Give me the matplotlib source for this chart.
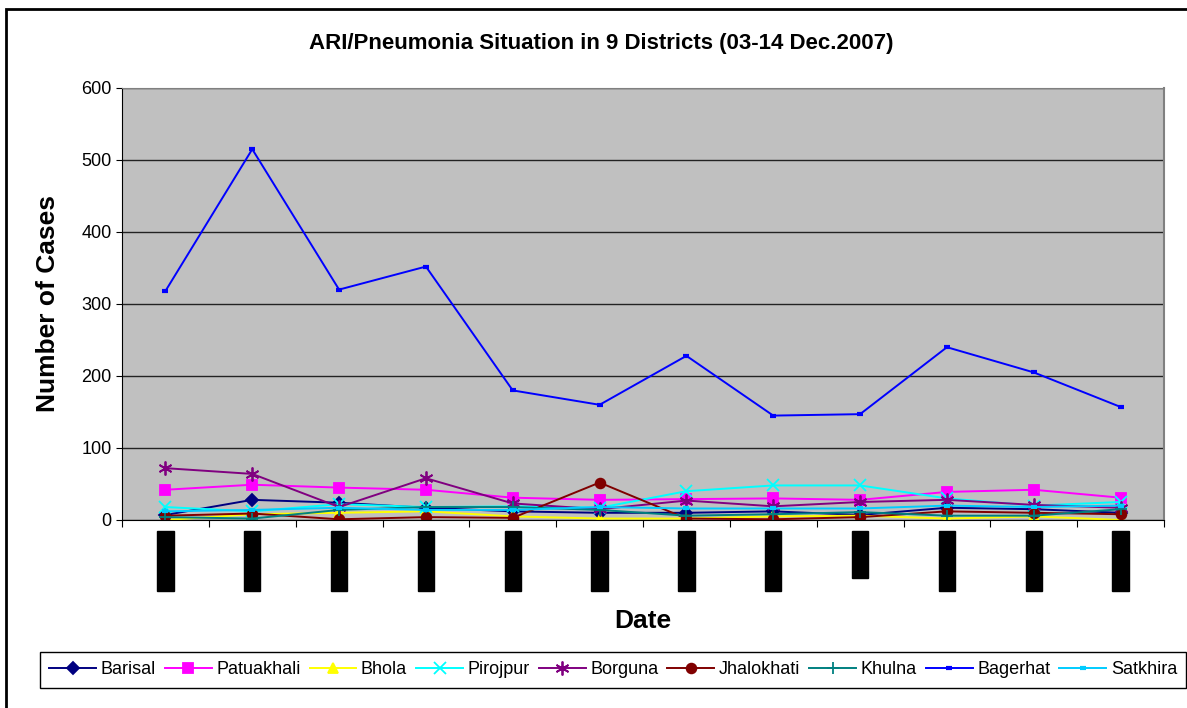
import numpy as np
import matplotlib
matplotlib.use("Agg")
import matplotlib.pyplot as plt
from matplotlib.patches import Rectangle

plt.rcParams['font.family'] = ['Liberation Sans', 'DejaVu Sans']

dates = ["03-12-2007", "04-12-2007", "05-12-2007", "06-12-2007", "07-12-2007", "08-12-2007",
         "09-12-2007", "10-12-2007", "11-12-07", "12-12-2007", "13-12-2007", "14-12-2007"]

barisal    = [7, 28, 24, 17, 12, 10, 10, 12, 7, 17, 15, 10]
patuakhali = [42, 49, 45, 42, 31, 28, 29, 30, 28, 39, 42, 31]
bhola      = [0, 8, 10, 12, 5, 2, 2, 5, 6, 2, 5, 0]
pirojpur   = [18, 12, 22, 18, 19, 17, 40, 48, 48, 30, 20, 25]
borguna    = [72, 64, 18, 58, 23, 15, 27, 19, 25, 28, 21, 17]
jhalokhati = [6, 9, 1, 4, 3, 52, 2, 1, 4, 12, 10, 8]
khulna     = [4, 2, 14, 18, 18, 14, 6, 8, 11, 6, 6, 15]
bagerhat   = [318, 515, 320, 352, 180, 160, 228, 145, 147, 240, 205, 157]
satkhira   = [12, 14, 17, 14, 14, 18, 16, 16, 16, 20, 18, 20]

series = [
    ("Barisal", barisal, "#000080", "D", 6),
    ("Patuakhali", patuakhali, "#FF00FF", "s", 7),
    ("Bhola", bhola, "#FFFF00", "^", 7),
    ("Pirojpur", pirojpur, "#00FFFF", "x", 8),
    ("Borguna", borguna, "#800080", (6, 2, 0), 10),
    ("Jhalokhati", jhalokhati, "#800000", "o", 7),
    ("Khulna", khulna, "#008080", "+", 9),
    ("Bagerhat", bagerhat, "#0000FF", "_", 5),
    ("Satkhira", satkhira, "#00CCFF", "_", 5),
]

fig = plt.figure(figsize=(11.87, 7.08), dpi=100)
ax = fig.add_axes([122/1187, 1-520/708, 1042/1187, 432/708])
ax.set_facecolor("#C0C0C0")

x = np.arange(len(dates))
for name, vals, col, mk, ms in series:
    mew = 3 if mk == "_" else 1.3
    ax.plot(x, vals, color=col, marker=mk, markersize=ms, linewidth=1.4,
            markeredgecolor=col, markerfacecolor=col, markeredgewidth=mew, label=name)

ax.set_ylim(0, 600)
ax.set_xlim(-0.5, len(dates) - 0.5)
ax.set_yticks(range(0, 601, 100))
ax.yaxis.grid(True, color="#222222", linewidth=1)
ax.set_axisbelow(True)
ax.tick_params(axis="y", labelsize=13, length=4, direction="out")

# category boundaries get the ticks, labels sit at the centres
ax.set_xticks(np.arange(-0.5, len(dates)), labels=[])
ax.tick_params(axis="x", which="major", length=5, direction="out")
ax.set_xticks(x, labels=dates, minor=True)
ax.tick_params(axis="x", which="minor", length=0, pad=10)
for lab in ax.get_xticklabels(minor=True):
    lab.set_rotation(90)
    lab.set_fontsize(7.6)
    lab.set_color("black")
    lab.set_va("top")
    lab.set_bbox(dict(facecolor="black", edgecolor="black", boxstyle="square,pad=0.3"))

ax.spines["left"].set_color("black")
ax.spines["bottom"].set_color("black")
ax.spines["top"].set_color("#808080")
ax.spines["right"].set_color("#808080")
ax.spines["right"].set_linewidth(1.5)

fig.text(601/1187, 1-43/708, "ARI/Pneumonia Situation in 9 Districts (03-14 Dec.2007)",
         ha="center", va="center", fontsize=16, fontweight="bold")
fig.text(48/1187, 1-303/708, "Number of Cases", rotation=90, ha="center", va="center",
         fontsize=19, fontweight="bold")
fig.text(643/1187, 1-621/708, "Date", ha="center", va="center", fontsize=19, fontweight="bold")

leg = fig.legend(loc="center", ncol=9, mode="expand",
                 bbox_to_anchor=(40/1187, 1-689/708, 1146/1187, 38/708),
                 fontsize=13, handlelength=2.6, handletextpad=0.25, columnspacing=0.4,
                 fancybox=False, framealpha=1, borderaxespad=0, borderpad=0.5)
leg.get_frame().set_edgecolor("black")
leg.get_frame().set_linewidth(1)

fig.patches.append(Rectangle((6/1187, -0.1), 1.2, 1-9.5/708 + 0.1, transform=fig.transFigure,
                             fill=False, edgecolor="black", linewidth=2))

fig.savefig("out.png", dpi=100)
